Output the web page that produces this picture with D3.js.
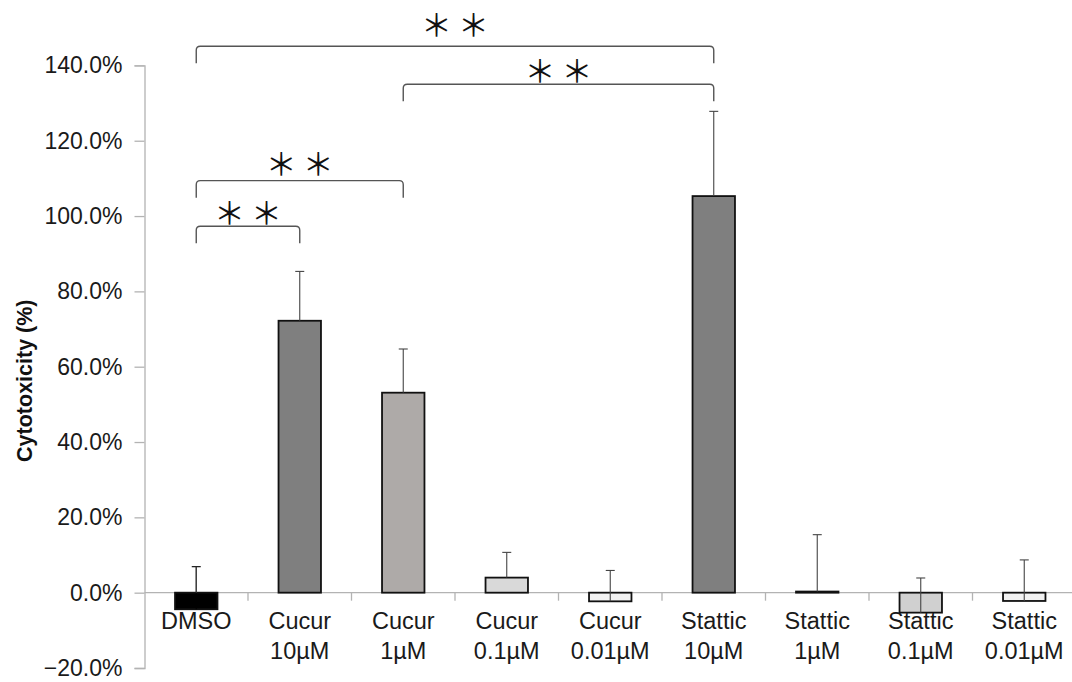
<!DOCTYPE html>
<html>
<head>
<meta charset="utf-8">
<script src="https://cdn.jsdelivr.net/npm/d3@7"></script>
<style>
  html, body { margin: 0; padding: 0; background: #fff; }
  svg { display: block; font-family: "Liberation Sans", Arial, sans-serif; }
</style>
</head>
<body>
<div id="chart"></div>
<script>
// values (percent)
const categories = ["DMSO", "Cucur 10µM", "Cucur 1µM", "Cucur 0.1µM", "Cucur 0.01µM",
    "Stattic 10µM", "Stattic 1µM", "Stattic 0.1µM", "Stattic 0.01µM"];
const values = [-4.4, 72.2, 53.1, 4.0, -2.3, 105.3, 0.3, -5.3, -2.2];
const errors = [11.3, 13.1, 11.6, 6.7, 8.2, 22.5, 15.1, 9.2, 10.9];
const yTicks = [-20, 0, 20, 40, 60, 80, 100, 120, 140];

// significance brackets
const bracketFrom = [0, 2, 0, 0];
const bracketTo = [5, 5, 2, 1];
const bracketLevel = [145.1, 135.0, 109.4, 97.3];
const starLevel = [151.3, 139.2, 114.6, 101.5];

const barColors = ["#000000", "#7f7f7f", "#aeaaa8", "#d9d9d9", "#f2f2f2",
    "#7f7f7f", "#595959", "#d0d0d0", "#f2f2f2"];

function barChart() {
    let width = 1072,
        height = 682,
        margin = {top: 65.4, left: 144.5, right: -4, bottom: 14};

    function chart(selector) {
        let svg = d3.select(selector)
            .append('svg')
            .attr('width', width)
            .attr('height', height);

        let xScale = d3.scaleBand()
            .domain(categories)
            .range([margin.left, width - margin.right])
            .padding(0);

        let yScale = d3.scaleLinear()
            .domain([-20, 140])
            .range([height - margin.bottom, margin.top]);

        let cx = d => xScale(d) + xScale.bandwidth() / 2;
        let barW = xScale.bandwidth() * 0.41;
        let axisColor = '#b3b3b3';

        // Y axis
        let yAxis = svg.append('g')
            .attr('transform', `translate(${margin.left},0)`)
            .call(d3.axisLeft(yScale)
                .tickValues(yTicks)
                .tickSize(10)
                .tickPadding(12)
                .tickFormat(d => d3.format('.1f')(d) + '%'));
        yAxis.select('.domain').attr('stroke', axisColor).attr('stroke-width', 1.3);
        yAxis.selectAll('.tick line').attr('stroke', axisColor).attr('stroke-width', 1.3);
        yAxis.selectAll('.tick text')
            .attr('fill', '#1a1a1a')
            .style('font-size', '23px')
            .style('font-family', '"Liberation Sans", Arial, sans-serif');

        // zero line with category ticks
        let xAxis = svg.append('g')
            .attr('transform', `translate(0,${yScale(0)})`);
        xAxis.append('line')
            .attr('x1', margin.left).attr('x2', width)
            .attr('stroke', axisColor).attr('stroke-width', 1.3);
        xAxis.selectAll('line.sep')
            .data(categories.slice(1)).enter()
            .append('line')
            .attr('class', 'sep')
            .attr('x1', d => xScale(d)).attr('x2', d => xScale(d))
            .attr('y1', 0).attr('y2', 8)
            .attr('stroke', axisColor).attr('stroke-width', 1.3);

        // category labels (two lines)
        let labels = svg.selectAll('text.cat')
            .data(categories).enter()
            .append('text')
            .attr('class', 'cat')
            .attr('text-anchor', 'middle')
            .attr('fill', '#1a1a1a')
            .style('font-size', '23.5px');
        labels.each(function (d) {
            let parts = d.split(' ');
            let t = d3.select(this);
            parts.forEach((p, i) => {
                t.append('tspan')
                    .attr('x', cx(d))
                    .attr('y', yScale(0) + 36 + i * 30)
                    .text(p);
            });
        });

        // error bars under the bars only where the bar is black
        let drawErr = (sel) => {
            sel.append('line')
                .attr('x1', (d, i) => cx(categories[i]))
                .attr('x2', (d, i) => cx(categories[i]))
                .attr('y1', d => yScale(d))
                .attr('y2', (d, i) => yScale(d + errors[i]));
            sel.append('line')
                .attr('x1', (d, i) => cx(categories[i]) - 4.5)
                .attr('x2', (d, i) => cx(categories[i]) + 4.5)
                .attr('y1', (d, i) => yScale(d + errors[i]))
                .attr('y2', (d, i) => yScale(d + errors[i]));
        };

        // bars
        svg.selectAll('rect.bar')
            .data(values).enter()
            .append('rect')
            .attr('class', 'bar')
            .attr('x', (d, i) => cx(categories[i]) - barW / 2)
            .attr('y', d => yScale(Math.max(0, d)))
            .attr('width', barW)
            .attr('height', d => Math.abs(yScale(d) - yScale(0)))
            .attr('fill', (d, i) => barColors[i])
            .attr('stroke', '#111')
            .attr('stroke-width', 1.8);

        // error bars (plus direction only)
        let err = svg.selectAll('g.err')
            .data(values).enter()
            .append('g')
            .attr('class', 'err')
            .attr('stroke', (d, i) => barColors[i] === '#000000' ? '#000' : '#444')
            .attr('stroke-width', 1.1);
        drawErr(err);
        // the part above a black bar stays grey
        err.filter((d, i) => barColors[i] === '#000000')
            .append('line')
            .attr('stroke', '#444')
            .attr('x1', (d, i) => cx(categories[0]))
            .attr('x2', (d, i) => cx(categories[0]))
            .attr('y1', yScale(0))
            .attr('y2', d => yScale(d + errors[0]));

        // brackets with stars
        bracketLevel.forEach((lvl, i) => {
            let x1 = cx(categories[bracketFrom[i]]),
                x2 = cx(categories[bracketTo[i]]),
                y = yScale(lvl),
                leg = 17, r = 4;
            let p = d3.path();
            p.moveTo(x1, y + leg);
            p.lineTo(x1, y + r);
            p.quadraticCurveTo(x1, y, x1 + r, y);
            p.lineTo(x2 - r, y);
            p.quadraticCurveTo(x2, y, x2, y + r);
            p.lineTo(x2, y + leg);
            svg.append('path')
                .attr('d', p.toString())
                .attr('fill', 'none')
                .attr('stroke', '#555')
                .attr('stroke-width', 1.4);

            let mid = (x1 + x2) / 2;
            [-18.5, 18.5].forEach(off => {
                svg.append('text')
                    .attr('x', mid + off)
                    .attr('y', yScale(starLevel[i]))
                    .attr('text-anchor', 'middle')
                    .attr('dominant-baseline', 'central')
                    .attr('fill', '#111')
                    .style('font-family', '"Noto Sans CJK JP", "DejaVu Sans", sans-serif')
                    .style('font-size', '31px')
                    .text('＊');
            });
        });

        // y title
        svg.append('text')
            .attr('transform', `translate(24,${(yScale(-20) + yScale(140)) / 2 + 14}) rotate(-90)`)
            .attr('text-anchor', 'middle')
            .attr('dy', '0.35em')
            .attr('fill', '#111')
            .style('font-weight', 'bold')
            .style('font-size', '21.5px')
            .text('Cytotoxicity (%)');

        return chart;
    }

    return chart;
}

barChart()('#chart');
</script>
</body>
</html>
